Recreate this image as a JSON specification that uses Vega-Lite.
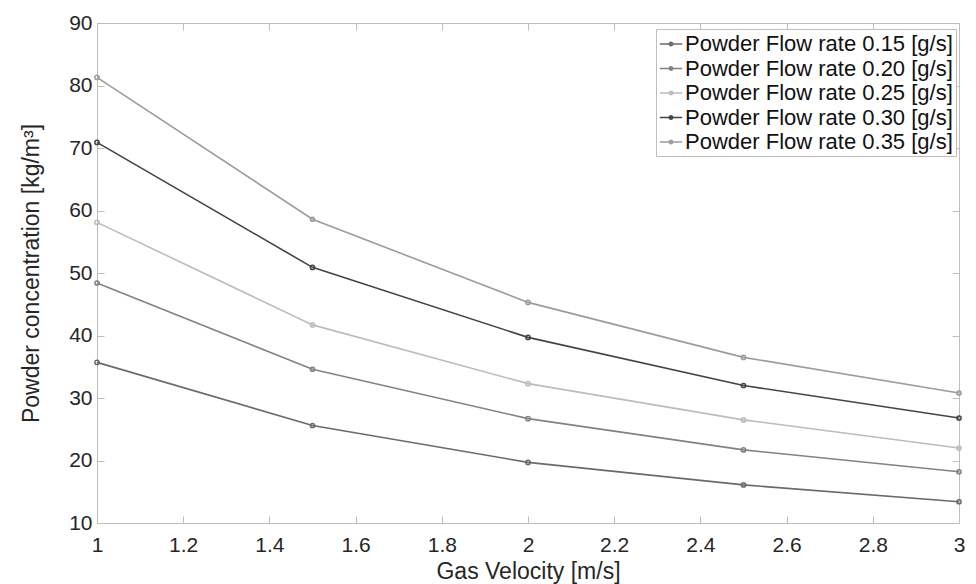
{
  "$schema": "https://vega.github.io/schema/vega-lite/v6.json",
  "width": 862,
  "height": 500,
  "autosize": {"type": "none"},
  "padding": {"left": 97, "top": 23, "right": 17, "bottom": 61},
  "background": "white",
  "config": {
    "font": "Liberation Sans",
    "view": {"stroke": "#bdbdbd", "strokeWidth": 1},
    "axis": {
      "domainColor": "#bdbdbd",
      "tickColor": "#bdbdbd",
      "labelColor": "#262626",
      "titleColor": "#262626",
      "labelFontSize": 21,
      "titleFontSize": 23,
      "titleFontWeight": "normal",
      "grid": false,
      "tickSize": -7
    }
  },
  "data": {
    "values": [
      {"v": 1, "c": 35.7, "s": "Powder Flow rate 0.15 [g/s]"},
      {"v": 1.5, "c": 25.6, "s": "Powder Flow rate 0.15 [g/s]"},
      {"v": 2, "c": 19.7, "s": "Powder Flow rate 0.15 [g/s]"},
      {"v": 2.5, "c": 16.1, "s": "Powder Flow rate 0.15 [g/s]"},
      {"v": 3, "c": 13.4, "s": "Powder Flow rate 0.15 [g/s]"},
      {"v": 1, "c": 48.4, "s": "Powder Flow rate 0.20 [g/s]"},
      {"v": 1.5, "c": 34.6, "s": "Powder Flow rate 0.20 [g/s]"},
      {"v": 2, "c": 26.7, "s": "Powder Flow rate 0.20 [g/s]"},
      {"v": 2.5, "c": 21.7, "s": "Powder Flow rate 0.20 [g/s]"},
      {"v": 3, "c": 18.2, "s": "Powder Flow rate 0.20 [g/s]"},
      {"v": 1, "c": 58.1, "s": "Powder Flow rate 0.25 [g/s]"},
      {"v": 1.5, "c": 41.7, "s": "Powder Flow rate 0.25 [g/s]"},
      {"v": 2, "c": 32.3, "s": "Powder Flow rate 0.25 [g/s]"},
      {"v": 2.5, "c": 26.5, "s": "Powder Flow rate 0.25 [g/s]"},
      {"v": 3, "c": 22.0, "s": "Powder Flow rate 0.25 [g/s]"},
      {"v": 1, "c": 70.9, "s": "Powder Flow rate 0.30 [g/s]"},
      {"v": 1.5, "c": 50.9, "s": "Powder Flow rate 0.30 [g/s]"},
      {"v": 2, "c": 39.7, "s": "Powder Flow rate 0.30 [g/s]"},
      {"v": 2.5, "c": 32.0, "s": "Powder Flow rate 0.30 [g/s]"},
      {"v": 3, "c": 26.8, "s": "Powder Flow rate 0.30 [g/s]"},
      {"v": 1, "c": 81.3, "s": "Powder Flow rate 0.35 [g/s]"},
      {"v": 1.5, "c": 58.6, "s": "Powder Flow rate 0.35 [g/s]"},
      {"v": 2, "c": 45.3, "s": "Powder Flow rate 0.35 [g/s]"},
      {"v": 2.5, "c": 36.5, "s": "Powder Flow rate 0.35 [g/s]"},
      {"v": 3, "c": 30.8, "s": "Powder Flow rate 0.35 [g/s]"}
    ]
  },
  "layer": [
    {
      "mark": {"type": "line", "strokeWidth": 1.6, "point": {"size": 18, "filled": false, "strokeWidth": 1.5}},
      "encoding": {
        "x": {
          "field": "v", "type": "quantitative",
          "scale": {"domain": [1, 3], "nice": false, "zero": false},
          "axis": {"values": [1, 1.2, 1.4, 1.6, 1.8, 2, 2.2, 2.4, 2.6, 2.8, 3], "format": "~g", "title": "Gas Velocity [m/s]", "titlePadding": 5, "labelPadding": 18, "labelFlush": false}
        },
        "y": {
          "field": "c", "type": "quantitative",
          "scale": {"domain": [10, 90], "nice": false, "zero": false},
          "axis": {"values": [10, 20, 30, 40, 50, 60, 70, 80, 90], "title": "Powder concentration [kg/m³]", "titlePadding": 25, "labelPadding": 12, "labelFlush": false}
        },
        "color": {
          "field": "s", "type": "nominal",
          "scale": {
            "domain": ["Powder Flow rate 0.15 [g/s]", "Powder Flow rate 0.20 [g/s]", "Powder Flow rate 0.25 [g/s]", "Powder Flow rate 0.30 [g/s]", "Powder Flow rate 0.35 [g/s]"],
            "range": ["#6a6a6a", "#828282", "#bcbcbc", "#444444", "#9c9c9c"]
          },
          "legend": {
            "title": null,
            "orient": "none",
            "legendX": 559,
            "legendY": 6,
            "fillColor": "white",
            "strokeColor": "#bdbdbd",
            "padding": 3,
            "labelFontSize": 22,
            "labelColor": "#111111",
            "labelLimit": 400,
            "labelOffset": 2,
            "rowPadding": 1.5,
            "symbolType": "M-1,0H1M-0.15,0a0.15,0.15 0 1,0 0.3,0a0.15,0.15 0 1,0 -0.3,0",
            "symbolSize": 500,
            "symbolStrokeWidth": 1.6
          }
        }
      }
    },
    {
      "mark": {"type": "line", "opacity": 0},
      "encoding": {
        "x": {"field": "v", "type": "quantitative", "scale": {"domain": [1, 3], "nice": false, "zero": false},
          "axis": {"orient": "top", "values": [1, 1.2, 1.4, 1.6, 1.8, 2, 2.2, 2.4, 2.6, 2.8, 3], "labels": false, "title": null}},
        "y": {"field": "c", "type": "quantitative", "scale": {"domain": [10, 90], "nice": false, "zero": false},
          "axis": {"orient": "right", "values": [10, 20, 30, 40, 50, 60, 70, 80, 90], "labels": false, "title": null}},
        "detail": {"field": "s"}
      }
    }
  ],
  "resolve": {"axis": {"x": "independent", "y": "independent"}}
}
